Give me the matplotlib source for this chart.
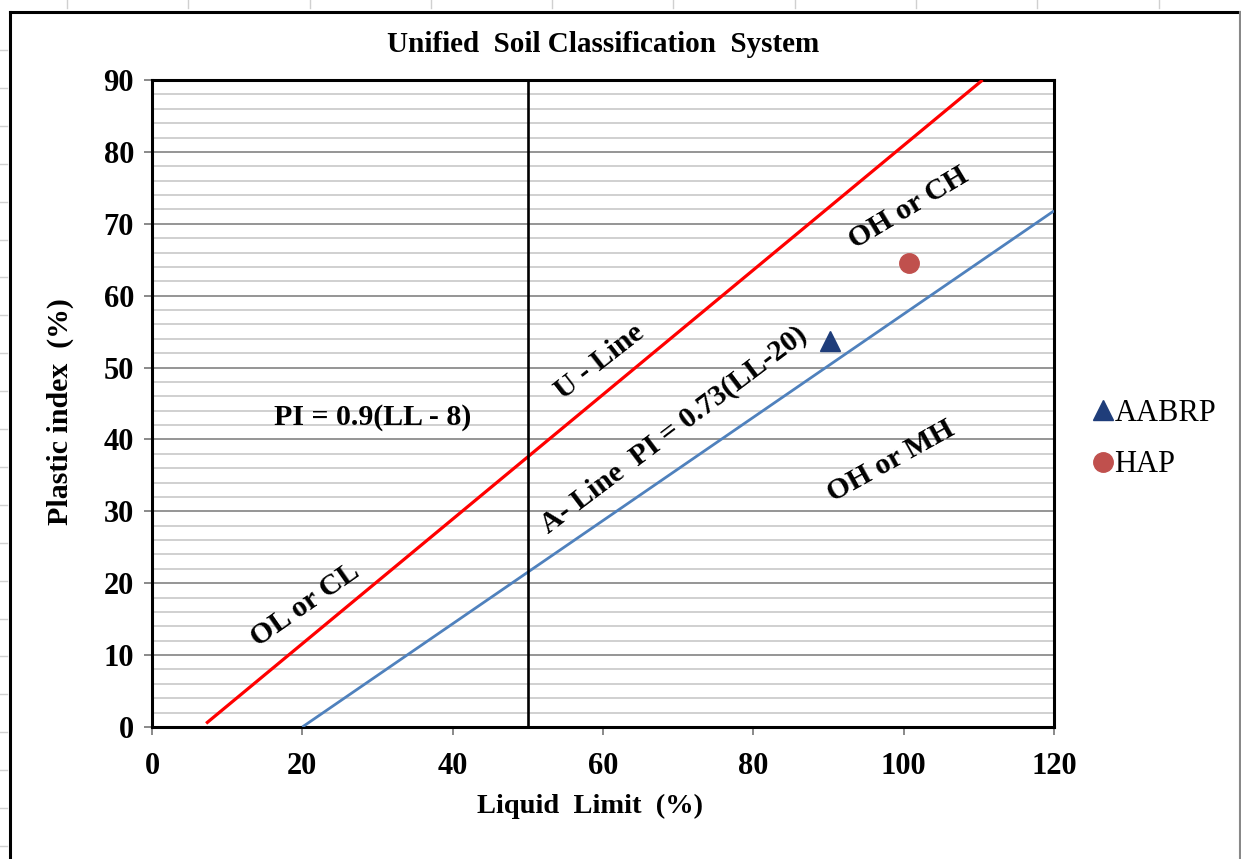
import matplotlib
matplotlib.use('Agg')
import matplotlib.pyplot as plt
from matplotlib.lines import Line2D
import numpy as np

plt.rcParams['font.family'] = ['Liberation Serif', 'DejaVu Serif']

# data
x_ticks = [0, 20, 40, 60, 80, 100, 120]
y_ticks = [0, 10, 20, 30, 40, 50, 60, 70, 80, 90]

u_line_ll = [7.2, 110.5]
u_line_pi = [0.5, 90.0]

a_line_ll = [20.0, 120.0]
a_line_pi = [0.0, 71.8]

divider_ll = [50.0, 50.0]
divider_pi = [0.0, 90.0]

samples = ['AABRP', 'HAP']
sample_ll = [90.2, 100.7]
sample_pi = [53.7, 64.5]
sample_markers = ['^', 'o']
sample_colors = ['#1F3D7A', '#C0504D']

zone_texts = ['PI = 0.9(LL - 8)', 'U - Line', 'A- Line  PI = 0.73(LL-20)',
              'OL or CL', 'OH or CH', 'OH or MH']
zone_ll = [29.3, 59.5, 69.4, 20.4, 100.6, 98.3]
zone_pi = [43.0, 50.8, 41.3, 17.0, 72.2, 37.0]
zone_rot = [0, 38, 37, 35, 31, 29]

W, H = 1241, 859
fig = plt.figure(figsize=(W / 100, H / 100), dpi=100)
fig.patch.set_facecolor('white')


def fx(px):
    return px / W


def fy(py):
    return 1 - py / H


ax = fig.add_axes([fx(152), fy(727), fx(1054) - fx(152), fy(80) - fy(727)])

# grid: minor every 2, major every 10
ax.set_yticks(np.arange(0, 91, 2), minor=True)
ax.grid(True, which='minor', axis='y', color='#c8c8c8', linewidth=1.2, zorder=0)
ax.grid(True, which='major', axis='y', color='#8c8c8c', linewidth=1.3, zorder=0)
ax.set_axisbelow(True)

ax.plot(u_line_ll, u_line_pi, color='#FF0000', linewidth=2.3, zorder=3,
        solid_capstyle='butt')
ax.plot(a_line_ll, a_line_pi, color='#4F81BD', linewidth=2.0, zorder=3,
        solid_capstyle='butt')
ax.plot(divider_ll, divider_pi, color='black', linewidth=1.9, zorder=3)

for name, ll, pi, m, c in zip(samples, sample_ll, sample_pi, sample_markers, sample_colors):
    ax.plot([ll], [pi], linestyle='none', marker=m, color=c, markersize=14,
            label=name, zorder=4)

for t, ll, pi, r in zip(zone_texts, zone_ll, zone_pi, zone_rot):
    ax.text(ll, pi, t, rotation=r, rotation_mode='anchor', ha='center',
            va='center', fontsize=21.5, fontweight='bold', zorder=5)

ax.set_xlim(0, 120)
ax.set_ylim(0, 90)
ax.set_xticks(x_ticks)
ax.set_yticks(y_ticks)
ax.tick_params(which='major', direction='out', length=6, width=1.3,
               color='#808080', labelsize=22)
ax.tick_params(axis='x', which='major', pad=12)
ax.tick_params(axis='y', which='major', pad=7)
ax.tick_params(which='minor', length=0)
for lab in ax.get_xticklabels() + ax.get_yticklabels():
    lab.set_fontweight('bold')
for sp in ax.spines.values():
    sp.set_linewidth(2.2)
    sp.set_color('black')

fig.text(fx(603), fy(44), 'Unified  Soil Classification  System', ha='center',
         va='center', fontsize=21, fontweight='bold')
fig.text(fx(590), fy(806), 'Liquid  Limit  (%)', ha='center', va='center',
         fontsize=20.5, fontweight='bold')
fig.text(fx(60), fy(412), 'Plastic index  (%)', ha='center', va='center',
         rotation=90, fontsize=21.5, fontweight='bold')

handles, labels = ax.get_legend_handles_labels()
fig.legend(handles, labels, loc='center left',
           bbox_to_anchor=(fx(1065), fy(439)), frameon=False, fontsize=22,
           handlelength=0.7, handletextpad=0.02, labelspacing=0.75,
           markerscale=1.0)

# chart frame and sheet cell marks
fig.add_artist(Line2D([fx(10), fx(10)], [fy(12), 0], color='black', linewidth=2.2))
fig.add_artist(Line2D([fx(10), fx(1240)], [fy(12), fy(12)], color='black', linewidth=2.2))
fig.add_artist(Line2D([fx(1239.5), fx(1239.5)], [fy(12), 0], color='#888888', linewidth=1.5))
for px in np.arange(67, 1240, 121.3):
    fig.add_artist(Line2D([fx(px), fx(px)], [1, fy(8)], color='#d0d0d0', linewidth=1))
for py in np.arange(50, 860, 37.9):
    fig.add_artist(Line2D([0, fx(7)], [fy(py), fy(py)], color='#d0d0d0', linewidth=1))

fig.savefig('out.png', dpi=100)
